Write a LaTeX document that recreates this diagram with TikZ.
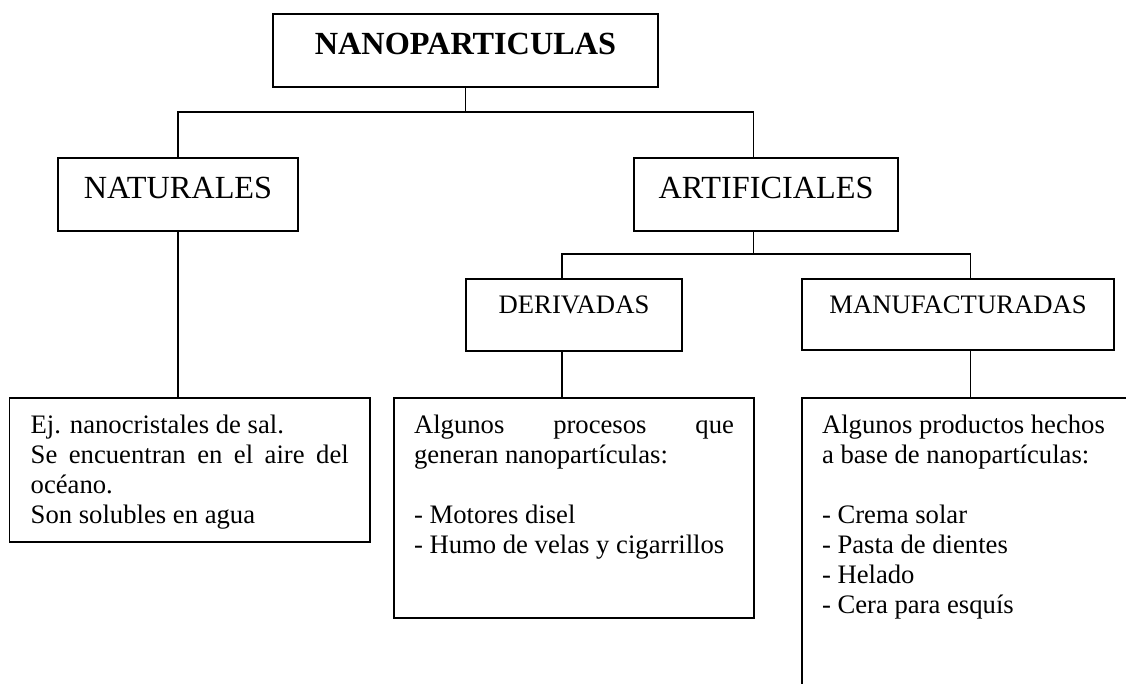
\documentclass[tikz,border=0pt]{standalone}
\usepackage{fontspec}
\setmainfont{Liberation Serif}
\usetikzlibrary{calc}
\begin{document}
\begin{tikzpicture}[x=0.75pt,y=-0.75pt,line width=1pt,line join=miter,
  box/.style={draw,rectangle,inner sep=0pt,line width=1pt},
  big/.style={font=\fontsize{24.2}{28}\selectfont},
  mid/.style={font=\fontsize{20}{24}\selectfont},
  body/.style={font=\fontsize{20}{22.5}\selectfont,inner sep=0pt,anchor=base west}]
\useasboundingbox (0,0) rectangle (1126,683);
\fill[white] (0,0) rectangle (1126,683);
\clip (0,0) rectangle (1126,683);

% heading boxes
\node[box,big,minimum width=385*0.75pt,minimum height=73*0.75pt,text height=16pt,text depth=10.75pt] (top) at (465.5,50.5) {\bfseries NANOPARTICULAS};
\node[box,big,minimum width=240*0.75pt,minimum height=73*0.75pt,text height=16pt,text depth=10.75pt] (nat) at (178,194.5) {NATURALES};
\node[box,big,minimum width=264*0.75pt,minimum height=73*0.75pt,text height=16pt,text depth=10.75pt] (art) at (766,194.5) {ARTIFICIALES};
\node[box,mid,minimum width=216*0.75pt,minimum height=72*0.75pt,text height=12pt,text depth=15pt] (der) at (574,315) {DERIVADAS};
\node[box,mid,minimum width=312*0.75pt,minimum height=71*0.75pt,text height=12pt,text depth=14.25pt] (man) at (958,314.5) {MANUFACTURADAS};

% text boxes
\node[box,minimum width=360.3*0.75pt,minimum height=144*0.75pt] (natt) at (189.85,470) {};
\node[box,minimum width=360*0.75pt,minimum height=220*0.75pt] (dert) at (574,508) {};
\node[box,minimum width=340*0.75pt,minimum height=302*0.75pt] (mant) at (972,549) {};

\node[body] (nattx) at ($(natt.north west)+(21,36)$) {\begin{tabular}[t]{@{}l@{}}
Ej. nanocristales de sal.\\
\makebox[238.5pt][s]{Se encuentran en el aire del}\\
océano.\\
Son solubles en agua
\end{tabular}};

\node[body] (dertx) at ($(dert.north west)+(20,36)$) {\begin{tabular}[t]{@{}l@{}}
\makebox[240pt][s]{Algunos procesos que}\\
generan nanopartículas:\\
\\
- Motores disel\\
- Humo de velas y cigarrillos
\end{tabular}};

\node[body] (mantx) at ($(mant.north west)+(20,36)$) {\begin{tabular}[t]{@{}l@{}}
Algunos productos hechos\\
a base de nanopartículas:\\
\\
- Crema solar\\
- Pasta de dientes\\
- Helado\\
- Cera para esquís
\end{tabular}};

% connectors
\coordinate (hT) at (0,112);
\coordinate (hA) at (0,254);
\coordinate (ax) at (753.7,0);
\coordinate (dx) at (562,0);
\coordinate (mx) at (970.5,0);

\draw (top.south) -- (top.south |- hT);
\draw (nat.north) |- (ax |- hT) -- (art.north -| ax);
\draw (art.south -| ax) -- (ax |- hA);
\draw (der.north -| dx) |- (mx |- hA) -- (man.north -| mx);
\draw (nat.south) -- (nat.south |- natt.north);
\draw (der.south -| dx) -- (dert.north -| dx);
\draw (man.south -| mx) -- (mant.north -| mx);
\end{tikzpicture}
\end{document}
